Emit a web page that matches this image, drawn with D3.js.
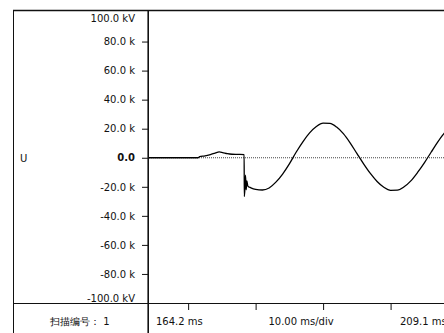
<!DOCTYPE html>
<!-- Oscillogram of one sweep, drawn with d3. -->
<meta charset="utf-8">
<style>
 body { margin: 0; background: white; }
 text { font: 10px "DejaVu Sans", sans-serif; fill: #111; }
 .frame { stroke: #111; stroke-width: 1px; fill: none; }
 .yaxis line { stroke: #111; }
 .xaxis line { stroke: #111; }
 .zero { stroke: #444; stroke-dasharray: 1,1; stroke-width: 1px; }
 .trace { fill: none; stroke: #000; stroke-width: 1.3px; }
</style>

<svg class="scope"></svg>

<script src="https://cdn.jsdelivr.net/npm/d3@7"></script>

<script>

 var width = 444;
 var height = 333;

 // trace samples: time in ms, voltage in kV
 var times = [164.2, 171.5, 171.7, 172.5, 173.3, 174.0, 174.6, 175.1, 175.8, 176.5, 177.3, 178.3,
              178.32, 178.42, 178.5, 178.6, 178.7, 178.85, 179.3, 180.0, 181.0, 182.0, 183.0, 184.0, 185.0,
              186, 187, 188, 189, 190, 191, 192, 193, 194, 195,
              196, 197, 198, 199, 200, 201, 202, 203, 204, 205,
              206, 207, 208, 209.1];
 var volts = [0, 0, 0.8, 1.3, 2.2, 3.2, 4.0, 3.6, 2.8, 2.4, 2.3, 2.2,
              -26.7, -21, -12, -22, -16, -19.5, -20.7, -21.8, -22.2, -20.8, -16.8, -11.2, -4.2,
              3.8, 11.0, 17.1, 21.5, 23.8, 23.6, 21.1, 16.6, 10.3, 3.0,
              -4.2, -10.8, -16.3, -20.3, -22.4, -22.3, -20.0, -15.9, -10.1, -3.5,
              3.8, 11.0, 17.1, 22.0];

 var yTicks = [80, 60, 40, 20, 0, -20, -40, -60, -80];
 var yTickLabels = ["80.0 k", "60.0 k", "40.0 k", "20.0 k", "0.0", "-20.0 k", "-40.0 k", "-60.0 k", "-80.0 k"];
 var yEndLabels = ["100.0 kV", "-100.0 kV"];
 var xTicks = [170, 180, 190, 200];
 var timeStart = 164.2;
 var timeEnd = 209.1;
 var footer = ["扫描编号： 1", "164.2 ms", "10.00 ms/div", "209.1 ms"];
 var channel = "U";

 var svg = d3.select(".scope").attr("width", width).attr("height", height);

 var x = d3.scaleLinear().domain([timeStart, timeEnd]).range([149, 452]);
 var y = d3.scaleLinear().domain([-100, 100]).range([303, 12.5]);

 // outer frame and separators
 svg.append("line").attr("class", "frame").attr("x1", 13).attr("y1", 10.5).attr("x2", width).attr("y2", 10.5).style("stroke-width", 1.5);
 svg.append("line").attr("class", "frame").attr("x1", 13.5).attr("y1", 10).attr("x2", 13.5).attr("y2", height);
 svg.append("line").attr("class", "frame").attr("x1", 13).attr("y1", 303.5).attr("x2", width).attr("y2", 303.5);
 svg.append("line").attr("class", "frame").attr("x1", 148.2).attr("y1", 10).attr("x2", 148.2).attr("y2", height).style("stroke-width", 1.6);

 // y axis
 var yaxis = svg.append("g").attr("class", "yaxis").attr("transform", "translate(148,0)")
     .call(d3.axisLeft(y).tickValues(yTicks).tickSize(6).tickPadding(7)
           .tickFormat(function(d, i) { return yTickLabels[i]; }));
 yaxis.select(".domain").remove();
 yaxis.selectAll("text").style("font-size", "10px").style("font-family", "DejaVu Sans").attr("fill", "#111")
     .style("font-weight", function(d) { return d == 0 ? "bold" : "normal"; });

 svg.append("text").attr("x", 135).attr("y", 22).attr("text-anchor", "end").text(yEndLabels[0]);
 svg.append("text").attr("x", 135).attr("y", 302).attr("text-anchor", "end").text(yEndLabels[1]);

 svg.append("text").attr("x", 20).attr("y", y(0) + 4).text(channel);

 // x axis ticks hang below the separator
 var xaxis = svg.append("g").attr("class", "xaxis").attr("transform", "translate(0,303)")
     .call(d3.axisBottom(x).tickValues(xTicks).tickSize(7).tickFormat(""));
 xaxis.select(".domain").remove();

 // zero reference
 svg.append("line").attr("class", "zero").attr("x1", 149).attr("x2", width).attr("y1", y(0)).attr("y2", y(0));

 // the trace
 var line = d3.line()
     .x(function(d) { return x(d); })
     .y(function(d, i) { return y(volts[i]); })
     .curve(d3.curveMonotoneX);

 svg.append("defs").append("clipPath").attr("id", "plot")
     .append("rect").attr("x", 149).attr("y", 11).attr("width", width - 149).attr("height", 292);

 svg.append("path").attr("class", "trace").attr("clip-path", "url(#plot)").attr("d", line(times));

 // footer
 svg.append("text").attr("x", 50).attr("y", 325).text(footer[0]);
 svg.append("text").attr("x", 156).attr("y", 325).text(footer[1]);
 svg.append("text").attr("x", 301).attr("y", 325).attr("text-anchor", "middle").text(footer[2]);
 svg.append("text").attr("x", 400).attr("y", 325).text(footer[3]);

</script>
